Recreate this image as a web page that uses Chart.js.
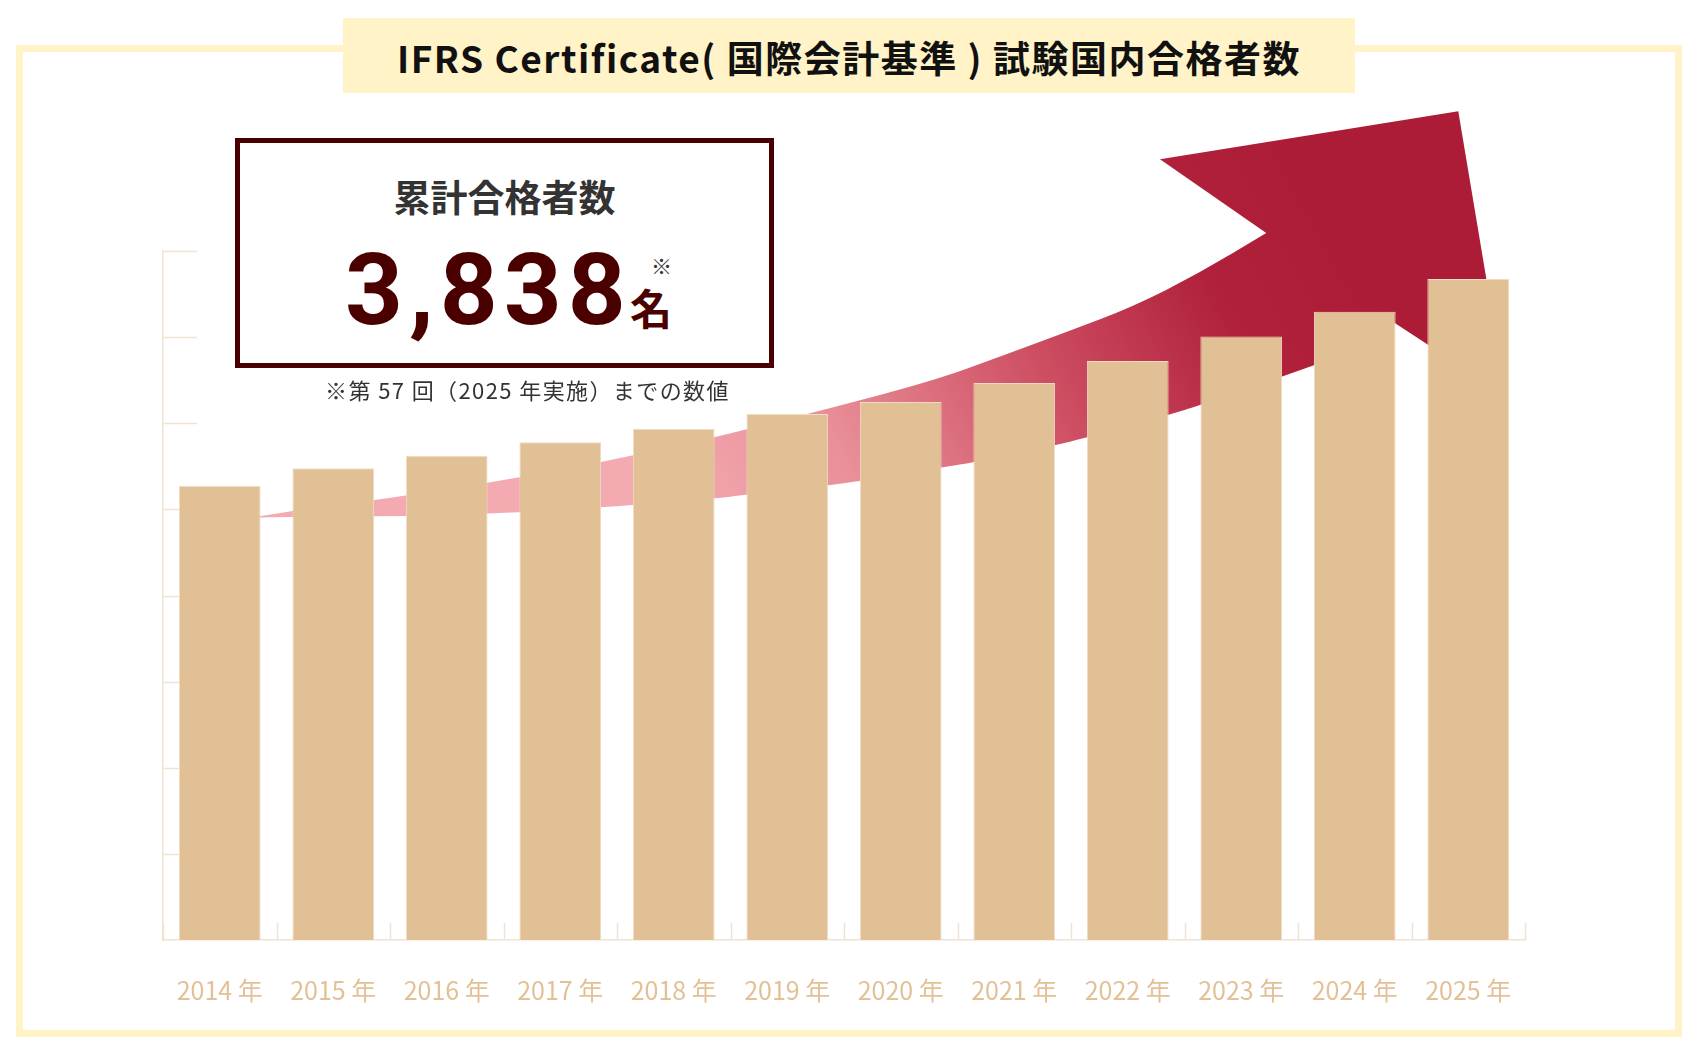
<!DOCTYPE html>
<html lang="ja">
<head>
<meta charset="utf-8">
<title>IFRS Certificate 試験国内合格者数</title>
<script src="https://cdn.jsdelivr.net/npm/chart.js@4.4.1/dist/chart.umd.min.js"></script>
<style>
  html, body { margin: 0; padding: 0; background: #fff; }
  #wrap { position: relative; width: 1702px; height: 1052px; font-family: 'Noto Sans CJK JP', sans-serif; }
  #wrap canvas { position: absolute; left: 0; top: 0; }
  .abs { position: absolute; line-height: 1; white-space: nowrap; }
  .frame { position: absolute; left: 16px; top: 45px; width: 1666px; height: 992px; box-sizing: border-box; border: 7px solid #fff3c7; }
  .titlebox { position: absolute; left: 343px; top: 18px; width: 1012px; height: 75px; background: #fff3c7; }
  .title { left: 0; width: 100%; top: 21px; text-align: center; font-size: 37px; font-weight: 700; color: #111; letter-spacing: 1.5px; }
  .sumbox { position: absolute; left: 235px; top: 138px; width: 539px; height: 230px; box-sizing: border-box; border: 5px solid #4b0000; background: #fff; }
  .sumlabel { left: 235px; width: 539px; top: 178px; text-align: center; font-size: 37px; font-weight: 700; color: #333; }
  .sumnum { left: 345px; top: 239px; font-family: Roboto, sans-serif; font-weight: 700; font-size: 101px; letter-spacing: 6px; color: #4b0000; }
  .sumunit { left: 630px; top: 286px; font-size: 42px; font-weight: 700; color: #4b0000; }
  .summark { left: 651px; top: 255px; font-size: 21px; color: #333; }
  .note { left: 325px; top: 378px; font-size: 22px; color: #333; letter-spacing: 1.4px; }
</style>
</head>
<body>
<div id="wrap">
  <div class="frame"></div>
  <canvas id="myChart"></canvas>
  <div class="titlebox"><div class="abs title">IFRS Certificate( 国際会計基準 ) 試験国内合格者数</div></div>
  <div class="sumbox"></div>
  <div class="abs sumlabel">累計合格者数</div>
  <div class="abs sumnum">3,838</div>
  <div class="abs summark">※</div>
  <div class="abs sumunit">名</div>
  <div class="abs note">※第 57 回（2025 年実施）までの数値</div>
</div>
<script>
var years = ['2014 年', '2015 年', '2016 年', '2017 年', '2018 年', '2019 年',
             '2020 年', '2021 年', '2022 年', '2023 年', '2024 年', '2025 年'];
var passers = [2636, 2739, 2812, 2889, 2968, 3054, 3123, 3234, 3361, 3503, 3648, 3838];
var yMax = 4000;
var yStep = 500;

var barColor = '#e2c096';
var lineColor = '#f1e3d2';
var labelColor = '#e3c196';

// decorative arrow, as fractions of the chart area
var arrowTop = [[0.064, 0.387], [0.095, 0.377], [0.155, 0.362], [0.239, 0.337], [0.322, 0.307],
                [0.405, 0.271], [0.488, 0.229], [0.566, 0.188], [0.615, 0.153], [0.664, 0.117],
                [0.712, 0.081], [0.761, 0.032], [0.810, -0.026]];
var arrowHead = [[0.732, -0.133], [0.951, -0.203], [0.986, 0.210], [0.901, 0.100]];
var arrowBottom = [[0.845, 0.166], [0.821, 0.183], [0.761, 0.224], [0.738, 0.238], [0.678, 0.271],
                   [0.655, 0.282], [0.595, 0.307], [0.571, 0.314], [0.512, 0.334], [0.488, 0.340],
                   [0.428, 0.354], [0.405, 0.359], [0.345, 0.369], [0.262, 0.380], [0.178, 0.385],
                   [0.095, 0.386], [0.064, 0.387]];

function smoothPath(ctx, pts, first) {
    if (first) ctx.moveTo(pts[0][0], pts[0][1]);
    else ctx.lineTo(pts[0][0], pts[0][1]);
    for (var i = 1; i < pts.length - 1; i++) {
        var mx = (pts[i][0] + pts[i + 1][0]) / 2;
        var my = (pts[i][1] + pts[i + 1][1]) / 2;
        ctx.quadraticCurveTo(pts[i][0], pts[i][1], mx, my);
    }
    var last = pts[pts.length - 1];
    ctx.lineTo(last[0], last[1]);
}

var arrowPlugin = {
    id: 'arrow',
    beforeDatasetsDraw: function(chart) {
        var ctx = chart.ctx, a = chart.chartArea;
        var w = a.right - a.left, h = a.bottom - a.top;
        function map(list) {
            return list.map(function(p) { return [a.left + p[0] * w, a.top + p[1] * h]; });
        }
        var g = ctx.createLinearGradient(a.left + 0.39 * w, a.top + 0.45 * h, a.left + 0.86 * w, a.top - 0.06 * h);
        g.addColorStop(0, '#f3aab1');
        g.addColorStop(0.25, '#e98f99');
        g.addColorStop(0.55, '#cd4d61');
        g.addColorStop(0.8, '#b1213c');
        g.addColorStop(1, '#ad1c37');
        ctx.save();
        ctx.fillStyle = g;
        ctx.beginPath();
        smoothPath(ctx, map(arrowTop), true);
        map(arrowHead).forEach(function(p) { ctx.lineTo(p[0], p[1]); });
        smoothPath(ctx, map(arrowBottom), false);
        ctx.closePath();
        ctx.fill();
        ctx.restore();
    }
};

var innerTicks = {
    id: 'innerTicks',
    beforeDatasetsDraw: function(chart) {
        var ctx = chart.ctx, a = chart.chartArea;
        var x = chart.scales.x, y = chart.scales.y;
        ctx.save();
        ctx.strokeStyle = lineColor;
        ctx.lineWidth = 1.5;
        ctx.beginPath();
        y.ticks.forEach(function(t) {
            if (t.value === 0) return;
            var py = Math.round(y.getPixelForValue(t.value)) + 0.5;
            ctx.moveTo(a.left, py);
            ctx.lineTo(a.left + 34, py);
        });
        var half = (x.getPixelForValue(1) - x.getPixelForValue(0)) / 2;
        for (var i = 0; i <= years.length; i++) {
            var px = i < years.length ? x.getPixelForValue(i) - half : x.getPixelForValue(i - 1) + half;
            px = Math.round(px) + 0.5;
            ctx.moveTo(px, a.bottom);
            ctx.lineTo(px, a.bottom - 17);
        }
        ctx.stroke();
        ctx.restore();
    }
};

var ctx = document.getElementById('myChart').getContext('2d');
var myChart = new Chart(ctx, {
    type: 'bar',
    data: {
        labels: years,
        datasets: [{
            data: passers,
            backgroundColor: barColor,
            borderColor: '#f0dcc3',
            borderWidth: 1,
            barPercentage: 0.72,
            categoryPercentage: 1
        }]
    },
    options: {
        responsive: true,
        maintainAspectRatio: false,
        animation: false,
        layout: { padding: { left: 163, top: 251, right: 177, bottom: 0 } },
        plugins: {
            legend: { display: false },
            tooltip: { enabled: false }
        },
        scales: {
            x: {
                grid: { display: false, drawTicks: false },
                border: { display: true, color: lineColor, width: 1.5 },
                ticks: {
                    color: labelColor,
                    font: { family: "'Noto Sans CJK JP', sans-serif", size: 25 },
                    padding: 35,
                    maxRotation: 0,
                    autoSkip: false
                },
                afterFit: function(s) { s.height = 112; }
            },
            y: {
                min: 0,
                max: yMax,
                grid: { display: false, drawTicks: false },
                border: { display: true, color: lineColor, width: 1.5 },
                ticks: { display: false, stepSize: yStep },
                afterFit: function(s) { s.width = 0; }
            }
        }
    },
    plugins: [arrowPlugin, innerTicks]
});
</script>
</body>
</html>
